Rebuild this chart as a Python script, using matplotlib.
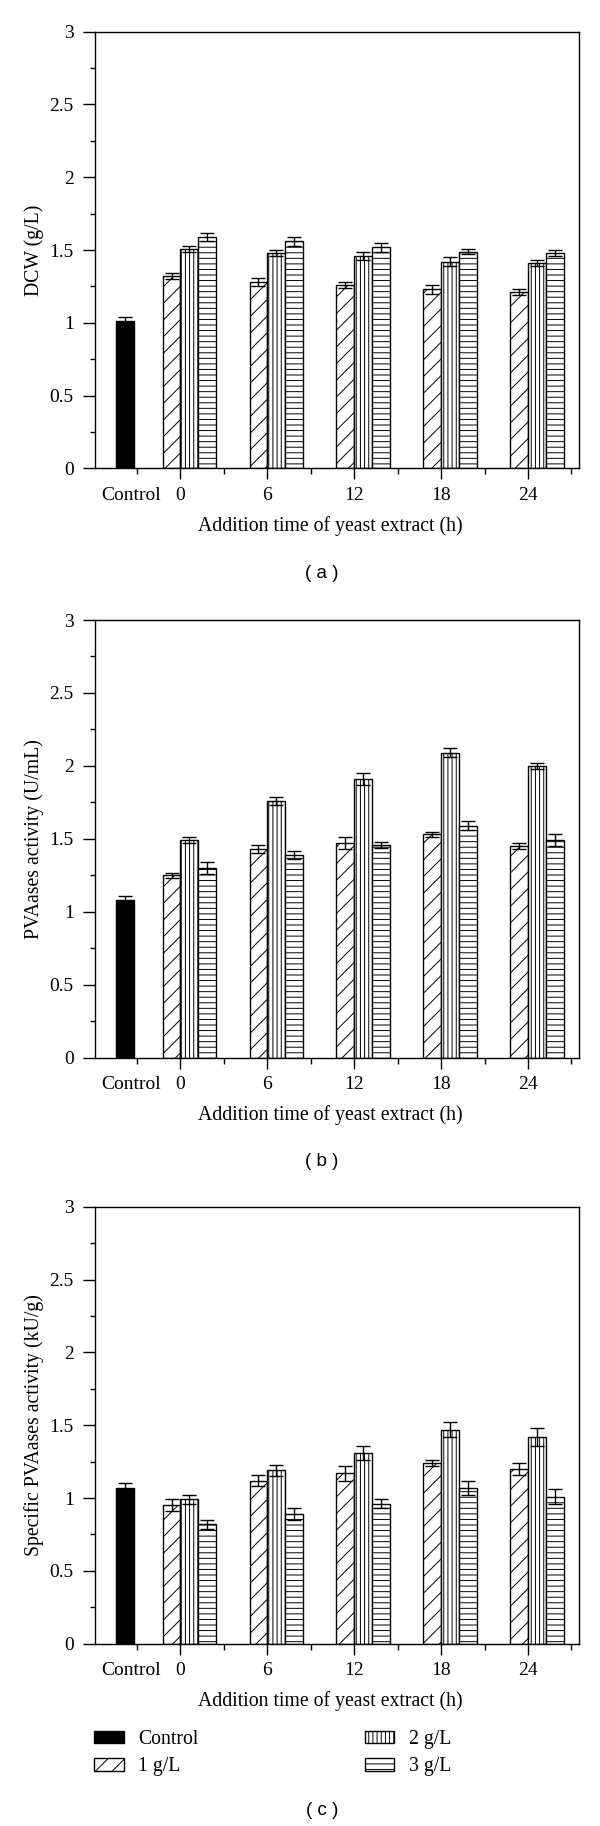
import matplotlib
matplotlib.use('Agg')
import matplotlib.pyplot as plt
import numpy as np
from matplotlib.ticker import MultipleLocator, FixedLocator, FuncFormatter

# ---------------- data ----------------
time_labels = ['0', '6', '12', '18', '24']
series_labels = ['Control', '1 g/L', '2 g/L', '3 g/L']

dcw_control, dcw_control_err = 1.01, 0.03
dcw_1 = [1.32, 1.28, 1.26, 1.23, 1.21]
dcw_1_err = [0.02, 0.03, 0.02, 0.03, 0.02]
dcw_2 = [1.51, 1.48, 1.46, 1.42, 1.41]
dcw_2_err = [0.02, 0.02, 0.03, 0.03, 0.02]
dcw_3 = [1.59, 1.56, 1.52, 1.49, 1.48]
dcw_3_err = [0.03, 0.03, 0.03, 0.02, 0.02]

pva_control, pva_control_err = 1.08, 0.03
pva_1 = [1.25, 1.43, 1.47, 1.53, 1.45]
pva_1_err = [0.015, 0.03, 0.04, 0.02, 0.02]
pva_2 = [1.49, 1.76, 1.91, 2.09, 2.00]
pva_2_err = [0.02, 0.03, 0.04, 0.03, 0.02]
pva_3 = [1.30, 1.39, 1.46, 1.59, 1.49]
pva_3_err = [0.04, 0.03, 0.02, 0.03, 0.04]

spa_control, spa_control_err = 1.07, 0.03
spa_1 = [0.95, 1.12, 1.17, 1.24, 1.20]
spa_1_err = [0.04, 0.04, 0.05, 0.02, 0.04]
spa_2 = [0.99, 1.19, 1.31, 1.47, 1.42]
spa_2_err = [0.03, 0.04, 0.05, 0.05, 0.06]
spa_3 = [0.82, 0.89, 0.96, 1.07, 1.01]
spa_3_err = [0.03, 0.04, 0.03, 0.05, 0.05]

ylabels = ['DCW (g/L)', 'PVAases activity (U/mL)', 'Specific PVAases activity (kU/g)']
panel_tags = ['( a )', '( b )', '( c )']
xlabel = 'Addition time of yeast extract (h)'

# ---------------- style ----------------
plt.rcParams['font.family'] = ['Liberation Serif', 'DejaVu Serif']
plt.rcParams['hatch.linewidth'] = 0.7

W, H = 600, 1826
fig = plt.figure(figsize=(W / 100, H / 100), dpi=100)


def axrect(top, bottom):
    return [95.3 / W, 1 - bottom / H, 484 / W, (bottom - top) / H]


panels = [
    (axrect(31.7, 468.5), 573.3,
     (dcw_control, dcw_control_err), (dcw_1, dcw_1_err), (dcw_2, dcw_2_err), (dcw_3, dcw_3_err)),
    (axrect(620.0, 1057.7), 1162.0,
     (pva_control, pva_control_err), (pva_1, pva_1_err), (pva_2, pva_2_err), (pva_3, pva_3_err)),
    (axrect(1206.7, 1643.7), 1810.0,
     (spa_control, spa_control_err), (spa_1, spa_1_err), (spa_2, spa_2_err), (spa_3, spa_3_err)),
]

x = np.arange(1, len(time_labels) + 1)
bw = 0.205
ctrl_pos = 0.36
ekw = dict(ecolor='black', elinewidth=1.0, capthick=1.0)
hatches = ['//', '||||', '---']

legend_handles = None
for i, (rect, tag_y, ctrl, s1, s2, s3) in enumerate(panels):
    ax = fig.add_axes(rect)
    hc = ax.bar([ctrl_pos], [ctrl[0]], 0.215, yerr=[ctrl[1]], color='black',
                edgecolor='black', linewidth=1.0, capsize=4.7, error_kw=ekw)
    handles = [hc]
    for (vals, errs), off, hat in zip([s1, s2, s3], [-bw / 2, bw / 2, 1.5 * bw], hatches):
        h = ax.bar(x + off, vals, bw, yerr=errs, color='white', edgecolor='black',
                   linewidth=1.0, hatch=hat, capsize=4.7, error_kw=ekw)
        handles.append(h)
    legend_handles = handles

    ax.set_xlim(0.02, 5.59)
    ax.set_ylim(0, 3)
    ax.set_yticks(np.arange(0, 3.01, 0.5))
    ax.yaxis.set_major_formatter(FuncFormatter(lambda v, p: '%g' % v))
    ax.yaxis.set_minor_locator(MultipleLocator(0.25))
    ax.set_xticks([0.435] + list(x), ['Control'] + time_labels)
    ax.xaxis.set_minor_locator(FixedLocator(np.arange(0.5, 6.0, 1.0)))
    ax.xaxis.get_major_ticks()[0].tick1line.set_visible(False)

    ax.tick_params(axis='both', which='both', direction='out', width=1.0, labelsize=14)
    ax.tick_params(axis='x', which='major', length=8.0, pad=5)
    ax.tick_params(axis='x', which='minor', length=4.3)
    ax.tick_params(axis='y', which='major', length=8.6, pad=7)
    ax.tick_params(axis='y', which='minor', length=3.6)
    for sp in ax.spines.values():
        sp.set_linewidth(1.0)

    ax.set_ylabel(ylabels[i], fontsize=14.2)
    ax.yaxis.set_label_coords(-0.105, 0.5)
    ax.set_xlabel(xlabel, fontsize=14.2)
    ax.xaxis.set_label_coords(0.485, -0.109)

    fig.text(322 / W, 1 - tag_y / H, panel_tags[i], ha='center', va='center',
             fontsize=13.5, family=['Liberation Sans', 'DejaVu Sans'])

fig.legend(legend_handles, series_labels, ncol=2, loc='upper left',
           bbox_to_anchor=(94.3 / W, 1 - 1730 / H), frameon=False, fontsize=14.2,
           handlelength=1.52, handleheight=0.62, handletextpad=0.72,
           columnspacing=8.4, labelspacing=0.42, borderpad=0, borderaxespad=0)

fig.savefig('out.png', dpi=100)
